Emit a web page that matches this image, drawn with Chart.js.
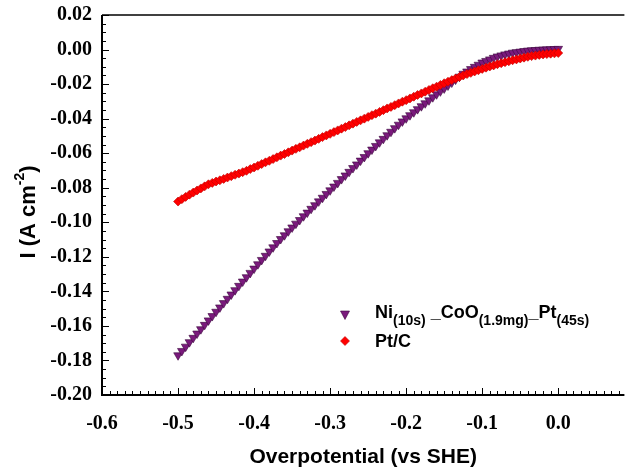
<!DOCTYPE html>
<html lang="en">
<head>
<meta charset="UTF-8">
<title>Overpotential vs current density</title>
<script src="https://cdn.jsdelivr.net/npm/chart.js"></script>
<style>
  html, body { margin: 0; padding: 0; background: #fff; }
  canvas { display: block; }
</style>
</head>
<body>
<canvas id="lsvChart" width="630" height="474"></canvas>
<script>
// potential (V vs SHE), shared by both curves
const potential = [
  -0.500,-0.495,-0.490,-0.485,-0.480,-0.475,-0.470,-0.465,-0.460,-0.455,
  -0.450,-0.445,-0.440,-0.435,-0.430,-0.425,-0.420,-0.415,-0.410,-0.405,
  -0.400,-0.395,-0.390,-0.385,-0.380,-0.375,-0.370,-0.365,-0.360,-0.355,
  -0.350,-0.345,-0.340,-0.335,-0.330,-0.325,-0.320,-0.315,-0.310,-0.305,
  -0.300,-0.295,-0.290,-0.285,-0.280,-0.275,-0.270,-0.265,-0.260,-0.255,
  -0.250,-0.245,-0.240,-0.235,-0.230,-0.225,-0.220,-0.215,-0.210,-0.205,
  -0.200,-0.195,-0.190,-0.185,-0.180,-0.175,-0.170,-0.165,-0.160,-0.155,
  -0.150,-0.145,-0.140,-0.135,-0.130,-0.125,-0.120,-0.115,-0.110,-0.105,
  -0.100,-0.095,-0.090,-0.085,-0.080,-0.075,-0.070,-0.065,-0.060,-0.055,
  -0.050,-0.045,-0.040,-0.035,-0.030,-0.025,-0.020,-0.015,-0.010,-0.005,
  0.000
];

// current density (A cm-2), Ni(10s)_CoO(1.9mg)_Pt(45s)
const niCoOPt = [
  -0.1770,-0.1745,-0.1720,-0.1694,-0.1669,-0.1644,-0.1619,-0.1594,-0.1568,-0.1543,
  -0.1518,-0.1493,-0.1468,-0.1443,-0.1418,-0.1393,-0.1368,-0.1343,-0.1318,-0.1293,
  -0.1268,-0.1243,-0.1218,-0.1194,-0.1169,-0.1145,-0.1120,-0.1097,-0.1075,-0.1052,
  -0.1030,-0.1008,-0.0987,-0.0965,-0.0944,-0.0922,-0.0901,-0.0879,-0.0858,-0.0836,
  -0.0815,-0.0793,-0.0772,-0.0750,-0.0729,-0.0708,-0.0686,-0.0665,-0.0643,-0.0622,
  -0.0600,-0.0579,-0.0558,-0.0537,-0.0517,-0.0496,-0.0476,-0.0455,-0.0435,-0.0416,
  -0.0398,-0.0380,-0.0363,-0.0345,-0.0328,-0.0311,-0.0294,-0.0276,-0.0259,-0.0242,
  -0.0225,-0.0208,-0.0191,-0.0174,-0.0157,-0.0140,-0.0127,-0.0113,-0.0100,-0.0088,
  -0.0075,-0.0066,-0.0057,-0.0048,-0.0040,-0.0034,-0.0028,-0.0023,-0.0018,-0.0015,
  -0.0012,-0.0009,-0.0006,-0.0004,-0.0003,-0.0001,0.0000,0.0001,0.0002,0.0003,
  0.0004
];

// current density (A cm-2), Pt/C
const ptC = [
  -0.0880,-0.0866,-0.0853,-0.0840,-0.0828,-0.0816,-0.0804,-0.0792,-0.0780,-0.0772,
  -0.0764,-0.0757,-0.0749,-0.0741,-0.0733,-0.0725,-0.0718,-0.0710,-0.0702,-0.0692,
  -0.0683,-0.0673,-0.0663,-0.0653,-0.0644,-0.0634,-0.0624,-0.0614,-0.0605,-0.0595,
  -0.0585,-0.0575,-0.0566,-0.0556,-0.0546,-0.0536,-0.0527,-0.0517,-0.0507,-0.0497,
  -0.0488,-0.0478,-0.0468,-0.0458,-0.0449,-0.0439,-0.0429,-0.0419,-0.0410,-0.0400,
  -0.0390,-0.0380,-0.0371,-0.0361,-0.0351,-0.0341,-0.0332,-0.0322,-0.0312,-0.0302,
  -0.0293,-0.0283,-0.0273,-0.0263,-0.0254,-0.0244,-0.0234,-0.0224,-0.0215,-0.0205,
  -0.0195,-0.0186,-0.0177,-0.0168,-0.0159,-0.0150,-0.0142,-0.0135,-0.0127,-0.0120,
  -0.0112,-0.0105,-0.0098,-0.0092,-0.0085,-0.0079,-0.0073,-0.0068,-0.0062,-0.0057,
  -0.0052,-0.0047,-0.0042,-0.0038,-0.0035,-0.0031,-0.0028,-0.0026,-0.0024,-0.0022,
  -0.0020
];

const xTicks = [-0.6, -0.5, -0.4, -0.3, -0.2, -0.1, 0.0];
const yTicks = [0.02, 0.00, -0.02, -0.04, -0.06, -0.08, -0.10, -0.12, -0.14, -0.16, -0.18, -0.20];

const PURPLE = '#7a1a7c';
const RED = '#ff0000';

// inward minor/major ticks, top frame line, y title with superscript, legend with subscripts
const decorations = {
  id: 'decorations',
  afterDraw(chart) {
    const { ctx, chartArea: a, scales: { x, y } } = chart;
    ctx.save();
    ctx.strokeStyle = '#000';

    // frame
    ctx.lineWidth = 2;
    ctx.beginPath();
    ctx.moveTo(a.left, a.top);
    ctx.lineTo(a.left, a.bottom);
    ctx.lineTo(a.right, a.bottom);
    ctx.stroke();
    ctx.lineWidth = 1.5;
    ctx.beginPath();
    ctx.moveTo(a.left, a.top);
    ctx.lineTo(a.right, a.top);
    ctx.stroke();

    ctx.lineWidth = 1;
    ctx.beginPath();
    for (let i = 0; i <= 70; i++) {
      const v = Math.round((-0.6 + i * 0.01) * 100) / 100;
      const px = Math.round(x.getPixelForValue(v)) + 0.5;
      if (px > a.right - 1) break;
      const len = i % 10 === 0 ? 7 : 4;
      ctx.moveTo(px, a.bottom);
      ctx.lineTo(px, a.bottom - len);
    }
    for (let i = 0; i <= 44; i++) {
      const v = Math.round((-0.2 + i * 0.005) * 1000) / 1000;
      const py = Math.round(y.getPixelForValue(v)) + 0.5;
      const len = i % 4 === 0 ? 7 : 4;
      ctx.moveTo(a.left, py);
      ctx.lineTo(a.left + len, py);
    }
    ctx.stroke();

    // y axis title: I (A cm-2)
    ctx.fillStyle = '#000';
    ctx.translate(29, 212);
    ctx.rotate(-Math.PI / 2);
    const big = 'bold 22px "Liberation Sans", Arial, sans-serif';
    const small = 'bold 14px "Liberation Sans", Arial, sans-serif';
    ctx.font = big;
    const w1 = ctx.measureText('I (A cm').width;
    const w3 = ctx.measureText(')').width;
    ctx.font = small;
    const w2 = ctx.measureText('-2').width;
    let sx = -(w1 + w2 + w3) / 2;
    ctx.textBaseline = 'middle';
    ctx.font = big;
    ctx.fillText('I (A cm', sx, 0);
    ctx.font = small;
    ctx.fillText('-2', sx + w1, -9);
    ctx.font = big;
    ctx.fillText(')', sx + w1 + w2, 0);
    ctx.restore();

    // legend
    ctx.save();
    const mainF = 'bold 18px "Liberation Sans", Arial, sans-serif';
    const subF = 'bold 14px "Liberation Sans", Arial, sans-serif';
    ctx.fillStyle = PURPLE;
    ctx.strokeStyle = '#3a063c';
    ctx.lineWidth = 0.6;
    ctx.beginPath();
    ctx.moveTo(340.5, 311);
    ctx.lineTo(349.5, 311);
    ctx.lineTo(345, 319.5);
    ctx.closePath();
    ctx.fill();
    ctx.stroke();
    ctx.fillStyle = RED;
    ctx.strokeStyle = '#c00000';
    ctx.beginPath();
    ctx.moveTo(345, 336.5);
    ctx.lineTo(349.5, 341);
    ctx.lineTo(345, 345.5);
    ctx.lineTo(340.5, 341);
    ctx.closePath();
    ctx.fill();
    ctx.stroke();

    ctx.fillStyle = '#000';
    ctx.textBaseline = 'alphabetic';
    const parts = [['Ni', 0], ['(10s)', 1], [' _', 0], ['CoO', 0], ['(1.9mg)', 1], ['_', 0], ['Pt', 0], ['(45s)', 1]];
    let tx = 375;
    parts.forEach(([t, sub]) => {
      ctx.font = sub ? subF : mainF;
      ctx.fillText(t, tx, sub ? 325 : 318);
      tx += ctx.measureText(t).width;
    });
    ctx.font = mainF;
    ctx.fillText('Pt/C', 375, 347);
    ctx.restore();
  }
};

const ctx = document.getElementById('lsvChart').getContext('2d');
new Chart(ctx, {
  type: 'scatter',
  data: {
    datasets: [
      {
        label: 'Pt/C',
        data: potential.map((v, i) => ({ x: v, y: ptC[i] })),
        pointStyle: 'rectRot',
        pointRadius: 4.5,
        backgroundColor: RED,
        borderColor: '#c00000',
        borderWidth: 0.6,
        order: 0
      },
      {
        label: 'Ni(10s)_CoO(1.9mg)_Pt(45s)',
        data: potential.map((v, i) => ({ x: v, y: niCoOPt[i] })),
        pointStyle: 'triangle',
        rotation: 180,
        pointRadius: 5,
        backgroundColor: PURPLE,
        borderColor: '#3a063c',
        borderWidth: 0.6,
        order: 1
      }
    ]
  },
  options: {
    responsive: false,
    animation: false,
    layout: { padding: { top: 15, right: 0, left: 0, bottom: 0 } },
    plugins: {
      legend: { display: false },
      tooltip: { enabled: false }
    },
    scales: {
      x: {
        type: 'linear',
        min: -0.6,
        max: 0.087,
        afterBuildTicks: s => { s.ticks = xTicks.map(v => ({ value: v })); },
        afterFit: s => { s.height = 79; s.paddingLeft = 0; s.paddingRight = 0; },
        grid: { display: false, drawTicks: false },
        border: { display: false },
        ticks: {
          padding: 17,
          color: '#000',
          font: { family: '"Liberation Serif", "Times New Roman", serif', size: 20, weight: 'bold' },
          callback: v => v.toFixed(1)
        },
        title: {
          display: true,
          text: 'Overpotential (vs SHE)',
          color: '#000',
          font: { family: '"Liberation Sans", Arial, sans-serif', size: 21, weight: 'bold' },
          padding: { top: 0, bottom: 4 }
        }
      },
      y: {
        type: 'linear',
        min: -0.2,
        max: 0.02,
        afterBuildTicks: s => { s.ticks = yTicks.map(v => ({ value: v })); },
        afterFit: s => { s.width = 102; s.paddingTop = 0; s.paddingBottom = 0; },
        grid: { display: false, drawTicks: false },
        border: { display: false },
        ticks: {
          padding: 10,
          color: '#000',
          font: { family: '"Liberation Serif", "Times New Roman", serif', size: 20, weight: 'bold' },
          callback: v => v.toFixed(2)
        }
      }
    }
  },
  plugins: [decorations]
});
</script>
</body>
</html>
